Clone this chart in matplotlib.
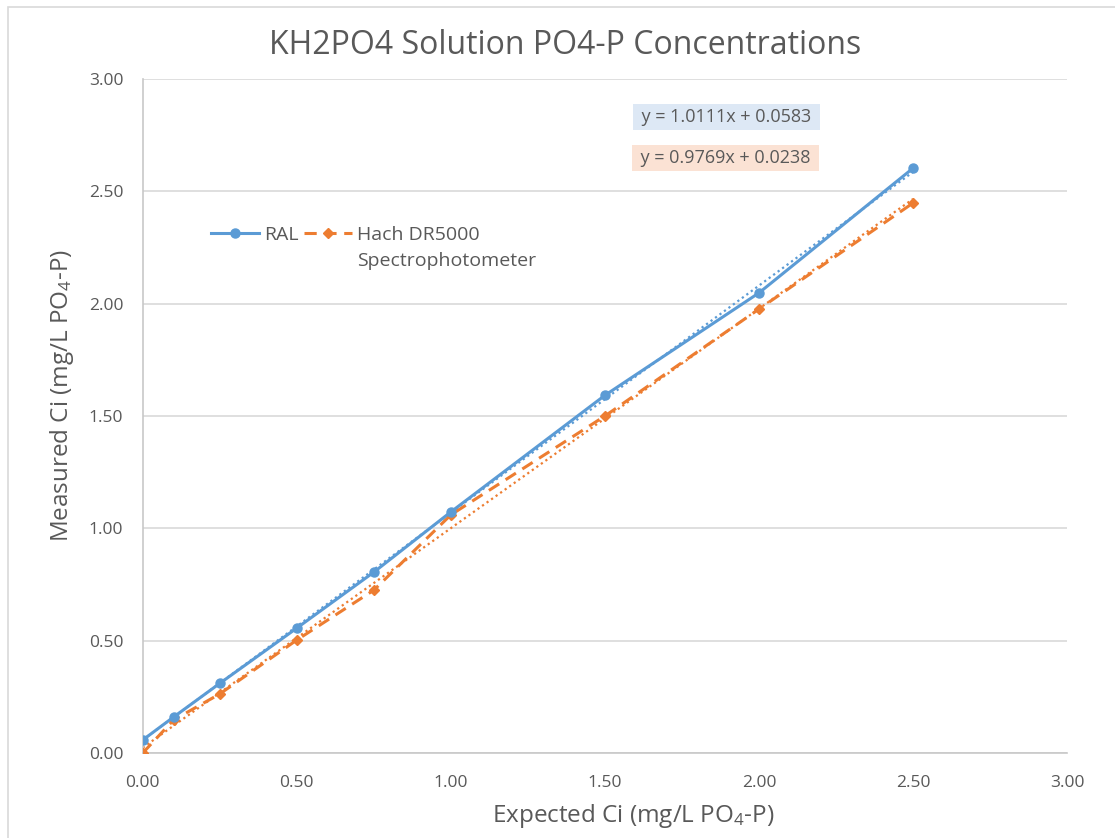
import matplotlib
matplotlib.use("Agg")
import matplotlib.pyplot as plt
from matplotlib.patches import Rectangle

plt.rcParams['font.family'] = ['Open Sans', 'DejaVu Sans']
plt.rcParams['mathtext.fontset'] = 'custom'
plt.rcParams['mathtext.rm'] = 'Open Sans'
plt.rcParams['mathtext.it'] = 'Open Sans'

# expected concentration (mg/L PO4-P)
expected = [0.0, 0.1, 0.25, 0.5, 0.75, 1.0, 1.5, 2.0, 2.5]
# measured concentrations for each method
ral = [0.058, 0.16, 0.31, 0.556, 0.805, 1.073, 1.592, 2.048, 2.603]
hach = [0.0, 0.147, 0.263, 0.503, 0.725, 1.06, 1.50, 1.976, 2.448]

# linear fit coefficients shown on the chart
ral_fit = (1.0111, 0.0583)
hach_fit = (0.9769, 0.0238)

blue = "#5b9bd5"
orange = "#ed7d31"
grey_text = "#595959"
grid_col = "#d9d9d9"

fig = plt.figure(figsize=(11.15, 8.38), dpi=100)
fig.patches.append(Rectangle((8 / 1115, -0.1), 1.2, 1.1 - 7 / 838,
                             transform=fig.transFigure, fill=False,
                             edgecolor="#d9d9d9", linewidth=1.2))
ax = fig.add_axes([0.128, 0.1014, 0.829, 0.8043])

# trendlines, drawn under the series
fit_x = [expected[0], expected[-1]]
ax.plot(fit_x, [ral_fit[0] * x + ral_fit[1] for x in fit_x],
        color=blue, linestyle=(0, (1, 1.5)), linewidth=1.6, zorder=2)
ax.plot(fit_x, [hach_fit[0] * x + hach_fit[1] for x in fit_x],
        color=orange, linestyle=(0, (1, 1.5)), linewidth=1.6, zorder=2)

ax.plot(expected, ral, color=blue, linewidth=2.2, marker="o",
        markersize=6.5, label="RAL", zorder=4)
ax.plot(expected, hach, color=orange, linewidth=2.2, linestyle=(0, (4, 2.5)),
        marker="D", markersize=5, label="Hach DR5000", zorder=3)

ax.set_xlim(0, 3)
ax.set_ylim(0, 3)
ticks = [0, 0.5, 1.0, 1.5, 2.0, 2.5, 3.0]
ax.set_xticks(ticks)
ax.set_yticks(ticks)
ax.set_xticklabels([f"{t:.2f}" for t in ticks])
ax.set_yticklabels([f"{t:.2f}" for t in ticks])
ax.tick_params(length=0, labelsize=12.5, colors=grey_text)
ax.tick_params(axis="x", pad=16)
ax.tick_params(axis="y", pad=14)

ax.grid(True, axis="y", color=grid_col, linewidth=1.2)
ax.set_axisbelow(True)
for side in ["top", "right"]:
    ax.spines[side].set_visible(False)
for side in ["left", "bottom"]:
    ax.spines[side].set_color("#c8c8c8")
    ax.spines[side].set_linewidth(1.2)

fig.text(565 / 1115, 1 - 46 / 838, "KH2PO4 Solution PO4-P Concentrations",
         fontsize=23, color=grey_text, ha="center", va="center")
ax.set_xlabel("Expected Ci (mg/L PO$_4$-P)", fontsize=17.5, color=grey_text)
ax.set_ylabel("Measured Ci (mg/L PO$_4$-P)", fontsize=17.5, color=grey_text)
ax.xaxis.set_label_coords(0.531, -0.072)
ax.yaxis.set_label_coords(-0.072, 0.531)

leg = ax.legend(loc="upper left", bbox_to_anchor=(0.063, 0.797), ncol=2,
                frameon=False, fontsize=14, labelcolor=grey_text,
                handlelength=2.5, columnspacing=0.25, handletextpad=0.25,
                borderpad=0)

ax.text(1.895, 2.83, " y = 1.0111x + 0.0583 ", fontsize=13, color=grey_text,
        ha="center", va="center",
        bbox=dict(boxstyle="square,pad=0.22", facecolor="#dde8f5",
                  edgecolor="none"))
ax.text(1.89, 2.648, " y = 0.9769x + 0.0238 ", fontsize=13, color=grey_text,
        ha="center", va="center",
        bbox=dict(boxstyle="square,pad=0.22", facecolor="#fbe2d4",
                  edgecolor="none"))

# second line of the Hach legend label, set under the first line
fig.canvas.draw()
bb = leg.get_texts()[1].get_window_extent()
W, H = fig.canvas.get_width_height()
fig.text(bb.x0 / W, (bb.y0 - 26) / H, "Spectrophotometer", fontsize=14,
         color=grey_text, ha="left", va="bottom")

fig.savefig("out.png", dpi=100)
